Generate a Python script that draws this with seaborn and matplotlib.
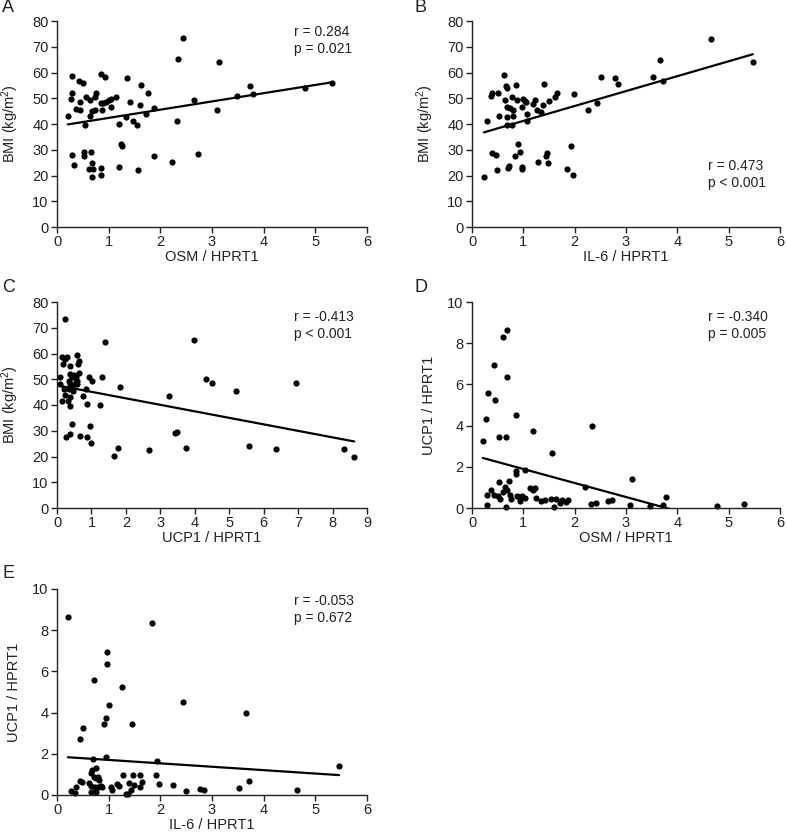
import seaborn as sns
import matplotlib.pyplot as plt
import numpy as np

sns.set_style('ticks')
plt.rcParams['font.family'] = ['Liberation Sans', 'DejaVu Sans']
plt.rcParams['mathtext.fontset'] = 'custom'
plt.rcParams['mathtext.rm'] = 'Liberation Sans'
plt.rcParams['mathtext.default'] = 'regular'

# Panel A: OSM vs BMI
osm_a = [0.21, 0.29, 0.42, 0.51, 0.86, 0.93, 1.36, 1.62, 1.76, 0.29, 0.27, 0.44, 0.57, 0.64,
         0.73, 0.75, 0.85, 0.89, 0.95, 1.00, 1.04, 1.14, 1.41, 1.60, 1.87, 0.37, 0.45, 0.67,
         0.74, 0.88, 1.04, 0.63, 0.54, 1.20, 1.34, 1.48, 1.55, 1.73, 2.32, 2.65, 3.10, 3.48,
         3.74, 3.79, 4.80, 5.32, 2.43, 2.34, 3.13, 0.29, 0.33, 0.53, 0.53, 0.66, 0.68, 0.61,
         0.69, 0.68, 0.86, 0.86, 1.20, 1.24, 1.25, 1.56, 1.87, 2.23, 2.73]
bmi_a = [43.1, 58.5, 56.7, 55.8, 59.3, 58.3, 57.7, 55.1, 52.0, 51.9, 49.8, 48.5, 50.6, 49.3,
         50.6, 52.0, 48.2, 48.0, 48.7, 49.3, 49.7, 50.4, 48.7, 47.5, 46.3, 45.7, 45.3, 45.0,
         45.3, 45.4, 46.6, 43.2, 39.7, 40.1, 42.7, 41.2, 39.5, 43.9, 41.3, 49.3, 45.4, 50.7,
         54.6, 51.7, 54.0, 55.8, 73.3, 65.1, 64.2, 28.0, 23.9, 29.0, 27.4, 29.3, 24.7, 22.7,
         22.5, 19.4, 23.0, 20.1, 23.2, 32.2, 31.5, 22.1, 27.6, 25.2, 28.5]

# Panel B: IL-6 vs BMI
il6_b = [0.23, 0.30, 0.37, 0.39, 0.50, 0.53, 0.63, 0.65, 0.66, 0.69, 0.68, 0.69, 0.69, 0.74,
         0.79, 0.77, 0.78, 0.79, 0.86, 0.87, 0.97, 1.00, 1.03, 1.06, 1.08, 1.08, 1.18, 1.22,
         1.26, 1.34, 1.39, 1.41, 1.50, 1.62, 1.66, 1.99, 2.26, 2.44, 2.52, 2.78, 2.85, 3.53,
         3.66, 3.73, 4.65, 5.47, 0.39, 0.46, 0.48, 0.71, 0.73, 0.83, 0.89, 0.93, 0.97, 0.98,
         1.29, 1.44, 1.47, 1.49, 1.85, 1.92, 1.96]
bmi_b = [19.4, 41.3, 50.7, 51.9, 51.9, 43.1, 59.2, 49.2, 54.6, 54.1, 46.5, 42.8, 39.6, 46.2,
         45.4, 39.7, 50.6, 43.1, 55.1, 49.4, 46.6, 49.8, 48.8, 48.5, 43.9, 41.2, 47.7, 49.4,
         45.3, 44.8, 47.5, 55.7, 48.8, 50.3, 52.1, 51.6, 45.4, 48.3, 58.3, 57.7, 55.7, 58.2,
         65.0, 56.6, 73.0, 64.1, 28.6, 28.0, 22.2, 23.0, 23.6, 27.5, 32.3, 29.2, 23.4, 22.6,
         25.3, 27.5, 28.9, 24.8, 22.6, 31.4, 20.1]

# Panel C: UCP1 vs BMI
ucp1_c = [0.24, 1.39, 3.98, 0.15, 0.22, 0.30, 0.58, 0.63, 0.60, 0.18, 0.39, 0.10, 0.39, 0.44,
          0.49, 0.54, 0.63, 0.57, 0.34, 0.37, 0.47, 0.54, 0.58, 0.10, 0.20, 0.34, 0.47, 0.22,
          0.39, 0.75, 0.84, 0.15, 0.31, 0.37, 0.86, 1.25, 0.93, 1.02, 1.30, 1.83, 3.25, 4.33,
          4.49, 5.20, 6.93, 0.44, 0.27, 0.39, 0.66, 0.86, 0.97, 0.98, 1.65, 1.76, 2.68, 3.44,
          3.47, 3.75, 5.58, 6.35, 8.32, 8.63]
bmi_c = [73.4, 64.5, 65.4, 58.5, 57.9, 58.5, 59.4, 57.0, 55.9, 55.9, 55.3, 51.0, 52.0, 50.7,
         51.7, 50.7, 52.3, 49.5, 49.5, 48.2, 47.8, 48.8, 48.2, 48.2, 46.2, 46.2, 45.6, 44.0,
         43.0, 43.6, 46.1, 41.7, 41.7, 39.7, 40.4, 40.0, 50.7, 49.5, 51.0, 46.9, 43.4, 50.1,
         48.4, 45.6, 48.7, 32.6, 27.7, 28.6, 28.1, 27.7, 31.7, 25.2, 20.3, 23.2, 22.4, 29.3,
         29.6, 23.3, 24.1, 22.8, 22.8, 19.7]

# Panel D: OSM vs UCP1
osm_d = [0.21, 0.27, 0.32, 0.43, 0.45, 0.53, 0.61, 0.68, 0.69, 0.66, 0.85, 1.19, 1.56, 2.34,
         3.11, 3.77, 0.29, 0.29, 0.37, 0.42, 0.50, 0.53, 0.55, 0.61, 0.64, 0.68, 0.66, 0.73,
         0.74, 0.76, 0.86, 0.86, 0.88, 0.92, 0.97, 1.03, 1.04, 0.94, 1.13, 1.18, 1.23, 1.24,
         1.34, 1.43, 1.53, 1.60, 1.63, 1.72, 1.75, 1.84, 1.87, 2.21, 2.32, 2.41, 2.64, 2.72,
         3.08, 3.47, 3.72, 4.77, 5.30]
ucp1_d = [3.26, 4.32, 5.60, 6.94, 5.24, 3.45, 8.32, 8.63, 6.35, 3.47, 4.52, 3.76, 2.69, 4.00,
          1.39, 0.55, 0.65, 0.15, 0.87, 0.63, 0.58, 1.24, 0.44, 0.76, 1.00, 0.89, 0.06, 1.32,
          0.65, 0.44, 1.65, 1.81, 0.60, 0.52, 0.56, 0.48, 1.84, 0.35, 0.95, 0.89, 0.98, 0.47,
          0.35, 0.40, 0.42, 0.03, 0.42, 0.24, 0.40, 0.31, 0.40, 1.00, 0.19, 0.23, 0.35, 0.40,
          0.13, 0.10, 0.15, 0.11, 0.19]

# Panel E: IL-6 vs UCP1
il6_e = [0.21, 1.84, 0.97, 0.97, 0.72, 1.25, 2.43, 1.00, 3.65, 0.95, 0.91, 1.45, 0.50, 0.45,
         0.69, 0.95, 1.94, 5.46, 0.28, 0.35, 0.37, 0.45, 0.49, 0.62, 0.65, 0.76, 0.68, 0.72,
         0.75, 0.79, 0.81, 0.66, 0.73, 0.79, 0.86, 0.88, 0.65, 0.76, 1.04, 1.07, 1.16, 1.20,
         1.28, 1.39, 1.43, 1.48, 1.49, 1.61, 1.65, 1.61, 1.34, 1.37, 1.91, 1.98, 2.25, 2.50,
         2.76, 2.84, 3.52, 3.72, 4.65]
ucp1_e = [8.64, 8.35, 6.95, 6.35, 5.60, 5.22, 4.52, 4.35, 4.00, 3.76, 3.47, 3.45, 3.26, 2.70,
          1.75, 1.84, 1.65, 1.40, 0.18, 0.10, 0.38, 0.66, 0.62, 0.60, 1.06, 1.30, 1.22, 0.88,
          0.82, 0.85, 0.75, 0.45, 0.38, 0.38, 0.45, 0.38, 0.15, 0.15, 0.38, 0.26, 0.53, 0.42,
          0.98, 0.58, 0.26, 0.98, 0.50, 0.95, 0.64, 0.38, 0.05, 0.03, 0.98, 0.54, 0.50, 0.18,
          0.30, 0.22, 0.34, 0.66, 0.25]

W, H = 787, 835
fig = plt.figure(figsize=(W / 100, H / 100), dpi=100)


def add_panel(left, top, right, bottom):
    return fig.add_axes([left / W, 1 - bottom / H, (right - left) / W, (bottom - top) / H])


def panel(ax, x, y, xmax, ymax, ystep, xlabel, ylabel, stats, text_y, letter, lx, ly):
    sns.regplot(x=x, y=y, ax=ax, ci=None, color='black', truncate=True,
                scatter_kws={'s': 20, 'clip_on': False, 'linewidths': 0, 'alpha': 1},
                line_kws={'linewidth': 1.6})
    ax.set_xlim(0, xmax)
    ax.set_ylim(0, ymax)
    ax.set_xticks(np.arange(0, xmax + 1, 1))
    ax.set_yticks(np.arange(0, ymax + ystep, ystep))
    ax.set_xlabel(xlabel, fontsize=10.5, color='#222222', labelpad=0.5)
    ax.set_ylabel(ylabel, fontsize=10.5, color='#222222')
    ax.yaxis.set_label_coords(-36 / 310, 0.5)
    sns.despine(ax=ax)
    for s in ['left', 'bottom']:
        ax.spines[s].set_linewidth(1.0)
        ax.spines[s].set_color('#222222')
    ax.tick_params(length=4, width=1, color='#222222', labelsize=10.5, labelcolor='#222222', pad=2)
    ax.text(0.765, text_y, stats, transform=ax.transAxes, ha='left', va='top',
            fontsize=10, color='#222222', linespacing=1.25)
    fig.text(lx / W, 1 - ly / H, letter, fontsize=13, color='#222222', ha='left', va='center')


bmi_label = 'BMI (kg/m$^2$)'
ucp_label = 'UCP1 / HPRT1'

ax_a = add_panel(57, 21, 367, 227)
panel(ax_a, osm_a, bmi_a, 6, 80, 10, 'OSM / HPRT1', bmi_label,
      'r = 0.284\np = 0.021', 0.98, 'A', 2, 8)

ax_b = add_panel(472, 21, 780, 227)
panel(ax_b, il6_b, bmi_b, 6, 80, 10, 'IL-6 / HPRT1', bmi_label,
      'r = 0.473\np < 0.001', 0.33, 'B', 414, 8)

ax_c = add_panel(57, 302, 367, 508)
panel(ax_c, ucp1_c, bmi_c, 9, 80, 10, 'UCP1 / HPRT1', bmi_label,
      'r = -0.413\np < 0.001', 0.96, 'C', 2, 287)

ax_d = add_panel(472, 302, 780, 508)
panel(ax_d, osm_d, ucp1_d, 6, 10, 2, 'OSM / HPRT1', ucp_label,
      'r = -0.340\np = 0.005', 0.96, 'D', 414, 287)

ax_e = add_panel(57, 589, 367, 795)
panel(ax_e, il6_e, ucp1_e, 6, 10, 2, 'IL-6 / HPRT1', ucp_label,
      'r = -0.053\np = 0.672', 0.975, 'E', 2, 574)

fig.savefig('out.png', dpi=100)
